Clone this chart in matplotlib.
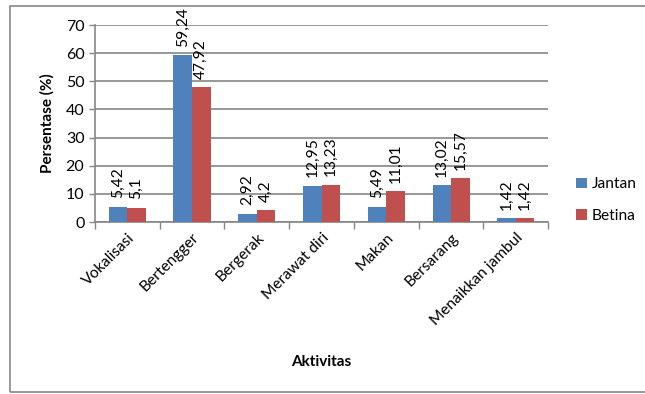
import numpy as np
import matplotlib
matplotlib.use('Agg')
import matplotlib.pyplot as plt
from matplotlib.patches import Rectangle

plt.rcParams['font.family'] = ['Lato', 'DejaVu Sans']

# Data
aktivitas = ['Vokalisasi', 'Bertengger', 'Bergerak', 'Merawat diri',
             'Makan', 'Bersarang', 'Menaikkan jambul']
jantan = [5.42, 59.24, 2.92, 12.95, 5.49, 13.02, 1.42]
betina = [5.1, 47.92, 4.2, 13.23, 11.01, 15.57, 1.42]
jantan_lbl = ['5,42', '59,24', '2,92', '12,95', '5,49', '13,02', '1,42']
betina_lbl = ['5,1', '47,92', '4,2', '13,23', '11,01', '15,57', '1,42']

blue = '#4f81bd'
red = '#c0504d'
grey = '#868686'

fig = plt.figure(figsize=(6.45, 3.94), dpi=100)
ax = fig.add_axes([0.147, 0.4365, 0.703, 0.5])

x = np.arange(len(aktivitas))
w = 0.286
b1 = ax.bar(x - w / 2, jantan, w, color=blue, label='Jantan', zorder=3)
b2 = ax.bar(x + w / 2, betina, w, color=red, label='Betina', zorder=3)

# data labels, rotated, above each bar
for rects, labels in [(b1, jantan_lbl), (b2, betina_lbl)]:
    for r, t in zip(rects, labels):
        ax.annotate(t, (r.get_x() + r.get_width() / 2, r.get_height()),
                    xytext=(0, 6), textcoords='offset points',
                    rotation=90, ha='center', va='bottom', fontsize=11.2)

ax.set_xlim(-0.5, len(aktivitas) - 0.5)
ax.set_ylim(0, 70)
ax.set_yticks(range(0, 71, 10))
ax.tick_params(axis='y', labelsize=11.5, length=4, color=grey, width=1)
ax.yaxis.grid(True, color=grey, linewidth=1.2, zorder=0)

ax.set_xticks(x)
ax.set_xticklabels(aktivitas, rotation=45, ha='right', rotation_mode='anchor',
                   fontsize=11.2)
ax.tick_params(axis='x', length=0, pad=6)
ax.set_xticks(np.arange(-0.5, len(aktivitas)), minor=True)
ax.tick_params(axis='x', which='minor', length=5, color=grey, width=1)

for s in ['top', 'right']:
    ax.spines[s].set_visible(False)
for s in ['left', 'bottom']:
    ax.spines[s].set_color(grey)
    ax.spines[s].set_linewidth(1.2)

ax.set_ylabel('Persentase (%)', fontsize=11, fontweight='bold', labelpad=8)
fig.text(0.498, 0.08, 'Aktivitas', ha='center', va='center',
         fontsize=11, fontweight='bold')

ax.legend(loc='center left', bbox_to_anchor=(1.03, 0.11), frameon=False,
          fontsize=11.2, handlelength=0.7, handleheight=0.7, handletextpad=0.3,
          labelspacing=1.15)

# chart border (right edge lies outside the picture)
fig.patches.append(Rectangle((0.016, 0.005), 1.1, 0.98, transform=fig.transFigure,
                             fill=False, edgecolor=grey, linewidth=1.2))

fig.savefig('out.png', dpi=100)
